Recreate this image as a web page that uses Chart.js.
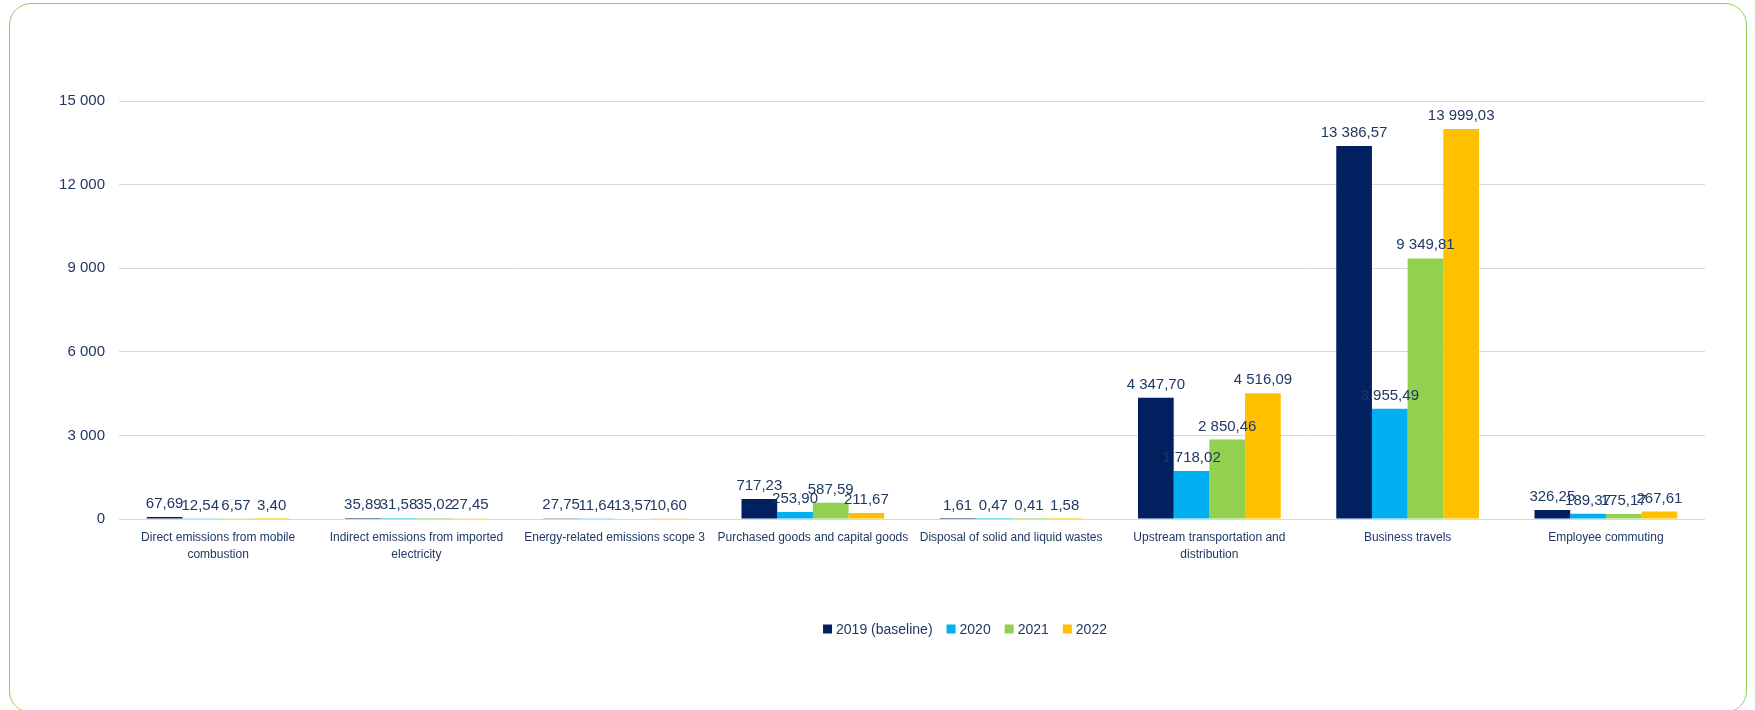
<!DOCTYPE html>
<html>
<head>
<meta charset="utf-8">
<script src="https://cdn.jsdelivr.net/npm/chart.js@4"></script>
<style>
  body { margin: 0; background: #fff; }
  #wrap { position: relative; width: 1755px; height: 710px; overflow: hidden; }
  #frame {
    position: absolute; left: 9px; top: 3px; width: 1738px; height: 710px;
    box-sizing: border-box; border: 1.5px solid #8fd15f; border-radius: 22px;
  }
  canvas { position: absolute; left: 0; top: 0; }
</style>
</head>
<body>
<div id="wrap">
  <div id="frame"></div>
  <canvas id="chart" width="1755" height="710"></canvas>
</div>
<script>
// Categories (multi-line labels as in the original)
var categories = [
  ['Direct emissions from mobile', 'combustion'],
  ['Indirect emissions from imported', 'electricity'],
  'Energy-related emissions scope 3',
  'Purchased goods and capital goods',
  'Disposal of solid and liquid wastes',
  ['Upstream transportation and', 'distribution'],
  'Business travels',
  'Employee commuting'
];

var seriesNames = ['2019 (baseline)', '2020', '2021', '2022'];
var seriesColors = ['#002060', '#00B0F0', '#92D050', '#FFC000'];

var values2019 = [67.69, 35.89, 27.75, 717.23, 1.61, 4347.70, 13386.57, 326.25];
var values2020 = [12.54, 31.58, 11.64, 253.90, 0.47, 1718.02, 3955.49, 189.37];
var values2021 = [6.57, 35.02, 13.57, 587.59, 0.41, 2850.46, 9349.81, 175.17];
var values2022 = [3.40, 27.45, 10.60, 211.67, 1.58, 4516.09, 13999.03, 267.61];

var textColor = '#1F3864';
var numFont = "'Liberation Sans', Arial, sans-serif";

// 13 386,57 style
function fmtValue(v) {
  var parts = v.toFixed(2).split('.');
  parts[0] = parts[0].replace(/\B(?=(\d{3})+(?!\d))/g, ' ');
  return parts.join(',');
}
function fmtTick(v) {
  return String(v).replace(/\B(?=(\d{3})+(?!\d))/g, ' ');
}

// value labels above every bar
var barLabels = {
  id: 'barLabels',
  afterDatasetsDraw: function (chart) {
    var ctx = chart.ctx;
    ctx.save();
    ctx.font = '15px ' + numFont;
    ctx.fillStyle = textColor;
    ctx.textAlign = 'center';
    ctx.textBaseline = 'alphabetic';
    chart.data.datasets.forEach(function (ds, i) {
      var meta = chart.getDatasetMeta(i);
      meta.data.forEach(function (bar, j) {
        ctx.fillText(fmtValue(ds.data[j]), bar.x, bar.y - 9);
      });
    });
    ctx.restore();
  }
};

// legend drawn by hand, centred under the chart like the original
var legendCenterX = 965;
var legendY = 629;
var bottomLegend = {
  id: 'bottomLegend',
  afterDraw: function (chart) {
    var ctx = chart.ctx;
    var box = 9, gapText = 4, gapItem = 14;
    ctx.save();
    ctx.font = '14px ' + numFont;
    ctx.textBaseline = 'middle';
    var items = chart.data.datasets.map(function (ds) {
      return { text: ds.label, color: ds.backgroundColor, w: ctx.measureText(ds.label).width };
    });
    var total = 0;
    items.forEach(function (it, i) {
      total += box + gapText + it.w + (i < items.length - 1 ? gapItem : 0);
    });
    var x = legendCenterX - total / 2;
    items.forEach(function (it) {
      ctx.fillStyle = it.color;
      ctx.fillRect(x, legendY - box / 2, box, box);
      ctx.fillStyle = textColor;
      ctx.fillText(it.text, x + box + gapText, legendY + 1);
      x += box + gapText + it.w + gapItem;
    });
    ctx.restore();
  }
};

var datasets = [values2019, values2020, values2021, values2022].map(function (vals, i) {
  return {
    label: seriesNames[i],
    data: vals,
    backgroundColor: seriesColors[i],
    categoryPercentage: 0.72,
    barPercentage: 1.0
  };
});

new Chart(document.getElementById('chart').getContext('2d'), {
  type: 'bar',
  data: { labels: categories, datasets: datasets },
  plugins: [barLabels, bottomLegend],
  options: {
    responsive: false,
    animation: false,
    layout: { padding: { left: 0, right: 50, top: 101, bottom: 131 } },
    plugins: {
      legend: { display: false },
      tooltip: { enabled: false }
    },
    scales: {
      x: {
        grid: { display: false },
        border: { display: false },
        afterFit: function (scale) { scale.height = 60; },
        ticks: {
          color: textColor,
          font: { family: numFont, size: 12, lineHeight: 1.35 },
          padding: 3,
          maxRotation: 0,
          autoSkip: false
        }
      },
      y: {
        min: 0,
        max: 15000,
        afterFit: function (scale) { scale.width = 119; },
        grid: { color: '#d9d9d9', lineWidth: 1, drawTicks: false },
        border: { display: false },
        ticks: {
          stepSize: 3000,
          color: textColor,
          font: { family: numFont, size: 15 },
          padding: 14,
          callback: function (v) { return fmtTick(v); }
        }
      }
    }
  }
});
</script>
</body>
</html>
